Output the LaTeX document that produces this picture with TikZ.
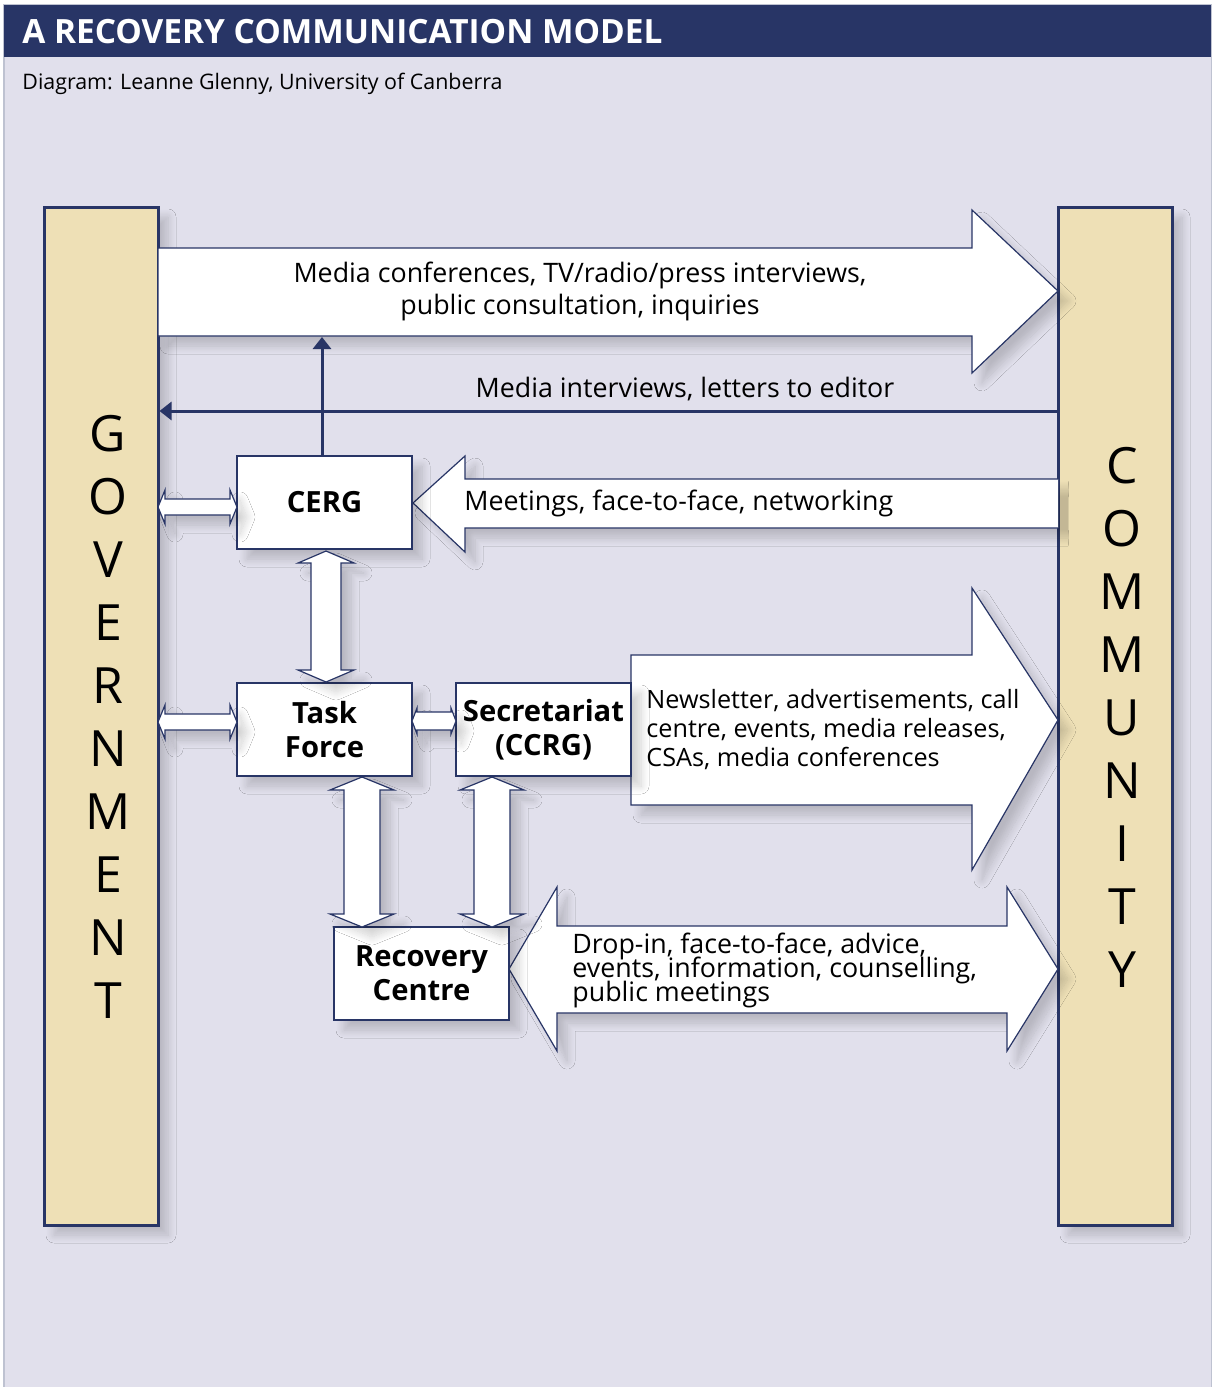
\documentclass[tikz,border=0pt]{standalone}
\usepackage{fontspec}
\setmainfont{Open Sans}
\usetikzlibrary{arrows.meta,shadows.blur}
\definecolor{navy}{HTML}{283566}
\definecolor{lav}{HTML}{E1E0EC}
\definecolor{tan}{HTML}{EEE0B6}

% wide two-headed arrows: from x1 to x2 at height yc (body half, head half, head length)
\newcommand{\harrow}[6]{\draw[flow] (#1,#3) -- (#1+#6,#3-#5) -- (#1+#6,#3-#4) -- (#2-#6,#3-#4) -- (#2-#6,#3-#5) -- (#2,#3) -- (#2-#6,#3+#5) -- (#2-#6,#3+#4) -- (#1+#6,#3+#4) -- (#1+#6,#3+#5) -- cycle;}
\newcommand{\varrow}[6]{\draw[flow] (#3,#1) -- (#3-#5,#1+#6) -- (#3-#4,#1+#6) -- (#3-#4,#2-#6) -- (#3-#5,#2-#6) -- (#3,#2) -- (#3+#5,#2-#6) -- (#3+#4,#2-#6) -- (#3+#4,#1+#6) -- (#3+#5,#1+#6) -- cycle;}
\newcommand{\tightlines}{\fontsize{13.4}{12}\selectfont\lineskiplimit=-6pt\relax}

\begin{document}
\begin{tikzpicture}[x=0.5pt,y=-0.5pt]
        \tikzstyle{every node}=[inner sep=0pt]
        \tikzstyle{soft}=[blur shadow={shadow xshift=5pt,shadow yshift=-5pt,shadow blur radius=4pt,shadow blur steps=14,shadow opacity=18}]
        \tikzstyle{flow}=[draw=navy,fill=white,line width=0.6pt,line join=miter,soft]
        \tikzstyle{bar}=[draw=navy,fill=tan,line width=1.5pt,minimum width=57pt,minimum height=509pt,soft]
        \tikzstyle{box}=[draw=navy,fill=white,line width=0.6pt,minimum width=87.5pt,minimum height=46.5pt,align=center,font=\fontsize{14.6}{17}\selectfont\bfseries,soft]
        \tikzstyle{letters}=[align=center,font=\fontsize{25}{31.5}\selectfont]
        \tikzstyle{say}=[font=\fontsize{13.4}{16}\selectfont]
        \useasboundingbox (0,0) rectangle (1211,1387);
        % frame and title
        \fill[white] (0,0) rectangle (1211,1387);
        \draw[fill=lav,draw=navy!30,line width=0.8pt] (4,5) rectangle (1212,1388);
        \fill[navy] (4,5) rectangle (1211,57);
        \node[anchor=west,text=white,font=\fontsize{16.7}{20}\selectfont\bfseries] (title) at (22,32) {A RECOVERY COMMUNICATION MODEL};
        \node[anchor=west,font=\fontsize{10.7}{12}\selectfont] (credit) at (22,84) {Diagram: Leanne Glenny, University of Canberra};
        % the two sides
        \node[bar] (gov) at (101,716) {};
        \node[bar] (com) at (1115,716) {};
        \node[letters] (govtxt) at (108,717) {G\\O\\V\\E\\R\\N\\M\\E\\N\\T};
        \node[letters] (comtxt) at (1122,717) {C\\O\\M\\M\\U\\N\\I\\T\\Y};
        % big arrows
        \draw[flow] (158,248) -- (972,248) -- (972,210) -- (1058,291) -- (972,373) -- (972,336) -- (158,336) -- cycle;
        \draw[flow] (1058,479) -- (465,479) -- (465,456) -- (413,503) -- (465,552) -- (465,528) -- (1058,528);
        \draw[flow] (631,655) -- (972,655) -- (972,588) -- (1058,720) -- (972,870) -- (972,805) -- (631,805) -- cycle;
        \draw[flow] (509,969) -- (557,887) -- (557,926) -- (1007,926) -- (1007,887) -- (1058,969) -- (1007,1051) -- (1007,1013) -- (557,1013) -- (557,1051) -- cycle;
        % boxes
        \node[box] (cerg) at (324.5,502.5) {CERG};
        \node[box] (task) at (324.5,729.5) {Task\\Force};
        \node[box] (sec) at (543.5,729.5) {Secretariat\\(CCRG)};
        \node[box] (rc) at (421.5,973.5) {Recovery\\Centre};
        % small two-way links
        \harrow{158}{237}{507}{8}{17}{7}
        \harrow{158}{237}{722}{8}{17}{7}
        \harrow{412}{456}{721}{9}{13}{5}
        \varrow{551}{682}{326}{15}{28}{12}
        \varrow{777}{927}{362}{18}{32}{13}
        \varrow{777}{927}{492}{18}{32}{13}
        % thin lines
        \coordinate (topb) at (322,337);
        \coordinate (back) at (1058,411);
        \draw[navy,line width=1.5pt,-{Triangle[length=6pt,width=9pt]}] (cerg.north -| topb) -- (topb);
        \draw[navy,line width=1.5pt,-{Triangle[length=6pt,width=9pt]}] (back) -- (back -| gov.east);
        % labels
        \node[say,align=center] (l1) at (580,291) {Media conferences, TV/radio/press interviews,\\public consultation, inquiries};
        \node[say] (l2) at (685,389) {Media interviews, letters to editor};
        \node[say,anchor=west] (l3) at (464,503) {Meetings, face-to-face, networking};
        \node[say,anchor=west,align=left,font=\fontsize{12.6}{14.5}\selectfont] (l4) at (646,730) {Newsletter, advertisements, call\\centre, events, media releases,\\CSAs, media conferences};
        \node[say,anchor=west,align=left,font=\tightlines] (l5) at (572,970) {Drop-in, face-to-face, advice,\\events, information, counselling,\\public meetings};
    \end{tikzpicture}
\end{document}
